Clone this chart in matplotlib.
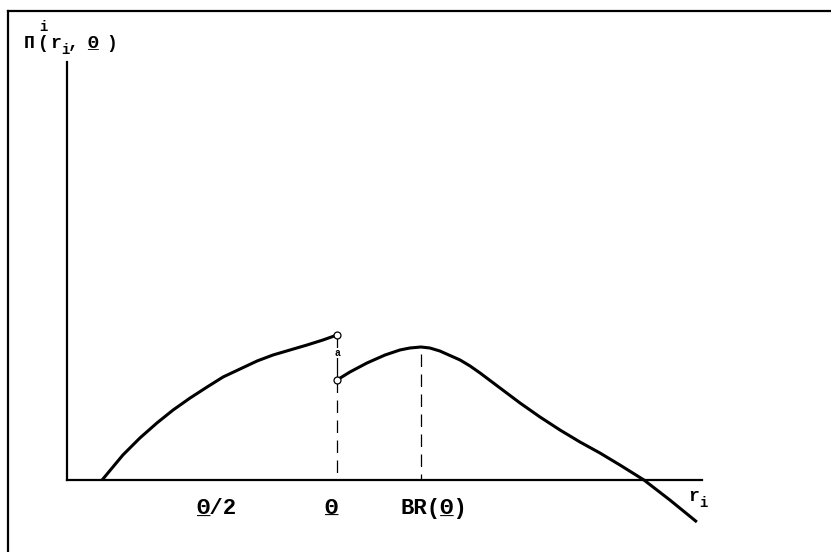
#!/usr/bin/env python3

import matplotlib

matplotlib.use("Agg")
import matplotlib.pyplot as plt

W, H = 831, 552
FONT = "Liberation Mono"

# payoff curve below theta (r in units of theta)
left_r = [0.130, 0.207, 0.270, 0.333, 0.393, 0.456, 0.519, 0.578,
          0.641, 0.704, 0.763, 0.826, 0.889, 0.948, 1.0]
left_pi = [0.0, 0.25, 0.42, 0.57, 0.70, 0.82, 0.93, 1.03,
           1.11, 1.19, 1.25, 1.30, 1.35, 1.40, 1.45]

# payoff curve above theta, peak at BR(theta)
right_r = [1.0, 1.048, 1.111, 1.178, 1.233, 1.270, 1.311, 1.344, 1.381,
           1.456, 1.493, 1.530, 1.604, 1.678, 1.752, 1.826, 1.900,
           1.974, 2.048, 2.137, 2.233, 2.333]
right_pi = [1.0, 1.08, 1.17, 1.25, 1.30, 1.32, 1.33, 1.32, 1.29,
            1.20, 1.14, 1.07, 0.92, 0.77, 0.63, 0.50, 0.38,
            0.27, 0.15, 0.0, -0.20, -0.42]

theta = 1.0
br_theta = 1.311
br_value = 1.33
jump_mark = 1.27

x_labels = ["\u0398/2", "\u0398", "BR(\u0398)"]
x_label_pos = [0.48, 0.955, 1.235]
x_label_underline = ["_  ", "_", "   _ "]


def fx(px):
    return px / W


def fy(py):
    return 1 - py / H


fig = plt.figure(figsize=(W / 100, H / 100), dpi=100)

# frame around the figure (only top and left edges fall inside the image)
fig.add_artist(plt.Line2D([fx(8), fx(W)], [fy(11), fy(11)], color="black", lw=1.6))
fig.add_artist(plt.Line2D([fx(8), fx(8)], [fy(11), 0], color="black", lw=1.6))

ax = fig.add_axes([fx(67), fy(480), fx(702) - fx(67), fy(62) - fy(480)])
ax.set_xlim(0, 2.352)
ax.set_ylim(0, 4.18)
for side in ("top", "right"):
    ax.spines[side].set_visible(False)
for side in ("left", "bottom"):
    ax.spines[side].set_linewidth(1.6)
ax.set_xticks([])
ax.set_yticks([])
ax.patch.set_visible(False)

curve_style = dict(color="black", lw=2.2, clip_on=False,
                   solid_capstyle="butt", solid_joinstyle="round")
ax.plot(left_r, left_pi, **curve_style)
ax.plot(right_r, right_pi, **curve_style)

# discontinuity at theta
ax.plot([theta, theta], [left_pi[-1], right_pi[0]], color="black", lw=0.9)
ax.plot([theta, theta], [right_pi[0], 0], color="black", lw=0.9, dashes=(10, 6))
ax.plot([theta, theta], [left_pi[-1], right_pi[0]], ls="none", marker="o",
        ms=5, mfc="white", mec="black", mew=0.9, zorder=5)
ax.text(theta, jump_mark, "a", fontsize=7, fontweight="bold", family=FONT,
        ha="center", va="center", zorder=6,
        bbox=dict(boxstyle="square,pad=0.05", fc="white", ec="none"))

# best response
ax.plot([br_theta, br_theta], [br_value - 0.07, 0], color="black", lw=0.9, dashes=(10, 6))

for label, pos, under in zip(x_labels, x_label_pos, x_label_underline):
    ax.text(pos, -0.34, label, fontsize=16, fontweight="bold", family=FONT,
            ha="left", va="baseline", clip_on=False)
    ax.text(pos, -0.34, under, fontsize=16, fontweight="bold", family=FONT,
            ha="left", va="baseline", clip_on=False)

# axis labels
fig.text(fx(688), fy(501), "r", fontsize=13, fontweight="bold", family=FONT, va="baseline")
fig.text(fx(699), fy(507), "i", fontsize=10, fontweight="bold", family=FONT, va="baseline")

fig.text(fx(24), fy(48), "\u03a0", fontsize=13, fontweight="bold", family=FONT, va="baseline")
fig.text(fx(39), fy(31), "i", fontsize=10, fontweight="bold", family=FONT, va="baseline")
fig.text(fx(38), fy(48), "(", fontsize=13, fontweight="bold", family=FONT, va="baseline")
fig.text(fx(50), fy(48), "r", fontsize=13, fontweight="bold", family=FONT, va="baseline")
fig.text(fx(61), fy(54), "i", fontsize=10, fontweight="bold", family=FONT, va="baseline")
fig.text(fx(68), fy(48), ",", fontsize=13, fontweight="bold", family=FONT, va="baseline")
fig.text(fx(87), fy(48), "\u0398", fontsize=13, fontweight="bold", family=FONT, va="baseline")
fig.text(fx(87), fy(48), "_", fontsize=13, fontweight="bold", family=FONT, va="baseline")
fig.text(fx(106), fy(48), ")", fontsize=13, fontweight="bold", family=FONT, va="baseline")

fig.savefig("out.png", dpi=100)
